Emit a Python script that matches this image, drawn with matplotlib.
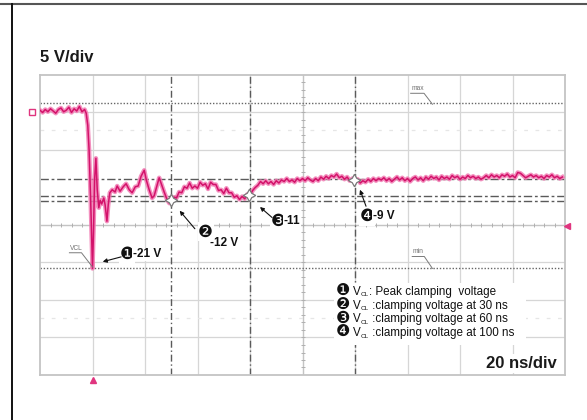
import matplotlib
matplotlib.use("Agg")
import matplotlib.pyplot as plt
from matplotlib.lines import Line2D
from matplotlib.patches import Rectangle

plt.rcParams['font.family'] = ['Liberation Sans', 'DejaVu Sans']

# ---- scope trace (time in ns, 0 = peak; volts) ----
time_ns = [-20, -19, -18, -17, -16, -15, -14, -13, -12, -11, -10, -9, -8, -7, -6, -5, -4, -3, -2.4,
           -1.8, -1.3, -0.7, -0.3, 0.0, 0.4, 0.8, 1.3, 1.8, 2.4, 2.9, 3.5, 4.3, 4.8, 5.5, 6.0, 6.6,
           7.5, 8.6, 9.4, 10.5, 11.7, 12.8, 14.0, 15.1, 16.3, 17.4, 18.5, 19.7, 20.5, 21.6, 22.7,
           23.5, 24.6, 25.4, 26.2, 27.3, 28.5, 29.3,
           30, 31, 32, 33, 34, 35, 36, 37, 38, 39, 40, 41, 42, 43, 44, 45, 46, 47, 48, 49,
           50, 51, 52, 53, 54, 55, 56, 57, 58, 59, 60, 61, 62, 63, 64, 65, 66, 67, 68, 69,
           70, 71, 72, 73, 74, 75, 76, 77, 78, 79, 80, 81, 82, 83, 84, 85, 86, 87, 88, 89,
           90, 91, 92, 93, 94, 95, 96, 97, 98, 99, 100, 101, 102, 103, 104, 105, 106, 107, 108, 109,
           110, 111, 112, 113, 114, 115, 116, 117, 118, 119, 120, 121, 122, 123, 124, 125, 126, 127, 128, 129,
           130, 131, 132, 133, 134, 135, 136, 137, 138, 139, 140, 141, 142, 143, 144, 145, 146, 147, 148, 149,
           150, 151, 152, 153, 154, 155, 156, 157, 158, 159, 160, 161, 162, 163, 164, 165, 166, 167, 168, 169,
           170, 171, 172, 173, 174, 175, 176, 177, 178, 179]
volts = [0.1, -0.2, 0.2, -0.1, 0.3, 0.0, -0.3, 0.2, 0.4, -0.1, 0.1, 0.5, -0.2, 0.3, 0.0, 0.6, -0.1, 0.2, -0.3,
         -1.9, -5.2, -11.9, -17.2, -21.0, -15.9, -9.2, -6.3, -10.5, -12.9, -11.9, -12.4, -11.6, -12.5, -14.7, -12.5, -10.9,
         -10.5, -10.8, -10.0, -10.7, -10.1, -9.7, -10.5, -10.9, -10.1, -10.0, -8.7, -7.9, -9.2, -10.5, -11.6,
         -11.3, -9.9, -8.9, -9.7, -10.8, -11.9, -12.3,
         -12.1, -11.5, -11.6, -10.8, -10.9, -10.1, -10.3, -9.6, -10.3, -10.0, -10.3, -9.5, -9.9, -9.7, -10.4, -9.5, -9.8, -9.8, -10.6, -10.5,
         -11.0, -10.3, -10.9, -10.9, -11.5, -11.3, -11.8, -11.4, -11.7, -11.1, -11.3, -10.6, -10.2, -9.9, -9.4, -9.7, -9.3, -9.7, -9.4, -9.8,
         -9.3, -9.6, -9.2, -9.4, -9.0, -9.4, -9.2, -9.5, -9.0, -9.3, -9.0, -9.3, -8.9, -9.2, -9.4, -9.0, -9.3, -8.8, -9.1, -8.7,
         -9.0, -8.6, -8.8, -8.4, -8.9, -8.7, -9.1, -8.8, -9.3, -9.0, -9.3, -9.1, -9.6, -9.3, -9.5, -9.1, -9.4, -9.0, -9.3, -9.0,
         -9.2, -8.9, -9.3, -9.0, -9.4, -9.1, -8.8, -9.2, -8.9, -9.3, -9.0, -9.4, -9.0, -8.8, -9.2, -8.9, -9.3, -8.8, -9.1, -8.7,
         -9.0, -8.8, -9.2, -8.7, -9.0, -8.8, -9.1, -8.6, -8.9, -8.7, -9.1, -8.8, -9.0, -8.6, -8.9, -8.7, -9.0, -8.8, -9.1, -8.9,
         -8.6, -8.9, -8.5, -8.8, -8.6, -8.9, -8.5, -8.7, -8.4, -8.8, -8.6, -8.9, -8.2, -8.3, -8.6, -8.9, -8.7, -8.5, -8.8, -8.6,
         -8.9, -8.7, -9.0, -8.6, -8.8, -8.5, -8.9, -8.7, -9.0, -8.8]

# cursor settings on the scope
cursor_times = [30, 60, 100]
cursor_levels = [-9.1, -11.4, -12.0]
max_level = 1.0
min_level = -21.0
marker_t = [29.9, 59.7, 99.7]
marker_v = [-11.9, -11.2, -9.2]

# callout numbers and values
circles = ['\u2776', '\u2777', '\u2778', '\u2779']
values = ['-21 V', '-12 V', '-11', '-9 V']
legend_rest = [': Peak clamping  voltage',
               ' :clamping voltage at 30 ns',
               ' :clamping voltage at 60 ns',
               ' :clamping voltage at 100 ns']

x_lim = (-20, 180)
y_lim = (-35.2, 4.8)

fig = plt.figure(figsize=(5.87, 4.2), dpi=100)
ax = fig.add_axes([40 / 587, 45 / 420, 525 / 587, 300 / 420])
ax.set_xlim(*x_lim)
ax.set_ylim(*y_lim)
ax.set_xticks([])
ax.set_yticks([])
for s in ax.spines.values():
    s.set_color('#c4c4c4')
    s.set_linewidth(1.3)

# graticule
grid_c = '#d6d6d6'
for k in range(1, 10):
    ax.axvline(x_lim[0] + 20 * k, color=grid_c, lw=0.9, zorder=1)
for k in [1, 2, 4, 5, 6, 7]:
    ax.axhline(y_lim[1] - 5 * k, color=grid_c, lw=0.9, zorder=1)
ax.axvline(80, color='#c4c4c4', lw=0.9, zorder=1)
ax.axhline(-15.2, color='#c4c4c4', lw=0.9, zorder=1)
ax.plot([x_lim[0] + 4 * k for k in range(1, 50)], [-15.2] * 49, ls='none',
        marker='|', ms=3.5, color='#b0b0b0', mew=0.7, zorder=1)
ax.plot([80] * 39, [y_lim[1] - k for k in range(1, 40)], ls='none',
        marker='_', ms=3.5, color='#b0b0b0', mew=0.7, zorder=1)
for lvl in [-2.5, -27.6]:
    ax.axhline(lvl, color='#e6e6e6', lw=0.9, ls=(0, (3, 6)), zorder=1)

# cursors
for t in cursor_times:
    ax.axvline(t, color='#5a5a5a', lw=1.0, ls=(0, (5, 2, 1, 2)), zorder=2)
for lvl in cursor_levels:
    ax.axhline(lvl, color='#5a5a5a', lw=1.0, ls=(0, (6, 2, 2, 2)), zorder=2)
for lvl in [max_level, min_level]:
    ax.axhline(lvl, color='#666666', lw=1.0, ls=(0, (1, 1.3)), zorder=2)

# trace
ax.plot(time_ns, volts, color='#f27bb3', lw=3.2, alpha=0.85, zorder=3, solid_joinstyle='round')
ax.plot(time_ns, volts, color='#d3126a', lw=1.1, zorder=3)
ax.plot(marker_t, marker_v, ls='none', marker=(4, 1, 0), ms=9, mfc='white',
        mec='#7a7a7a', mew=0.9, zorder=4)

# scope channel / trigger markers
ax.plot([-23], [-0.1], marker='s', ms=4, mfc='white', mec='#e0357f', clip_on=False, zorder=5)
ax.plot([0], [-35.9], marker='^', ms=5, color='#e0357f', clip_on=False, zorder=5)
ax.plot([180.8], [-15.3], marker='<', ms=5, color='#e0357f', clip_on=False, zorder=5)

# small scope labels VCL / max / min
small = dict(fontsize=4.8, color='#707070', zorder=5)
ax.text(-8.6, -18.75, 'VCL', ha='left', va='bottom', **small)
ax.plot([-8.8, -4.2, 0.0], [-18.9, -18.9, -20.8], color='#7a7a7a', lw=0.7, zorder=5)
ax.text(121.4, 2.5, 'max', ha='left', va='bottom', **small)
ax.plot([121.2, 126.3, 129.5], [2.36, 2.36, 0.9], color='#7a7a7a', lw=0.7, zorder=5)
ax.text(121.9, -19.25, 'min', ha='left', va='bottom', **small)
ax.plot([121.8, 126.4, 129.5], [-19.4, -19.4, -21.0], color='#7a7a7a', lw=0.7, zorder=5)

# value callouts: circled number, value text, arrow to the trace
wbox = dict(facecolor='white', edgecolor='none', pad=0.5)
circ = dict(fontsize=12, family='DejaVu Sans', color='#111111', zorder=6,
            ha='center', va='center', bbox=wbox)
bold = dict(fontsize=8.5, fontweight='bold', color='#111111', zorder=6,
            ha='left', va='center', bbox=wbox)
arrow = dict(arrowstyle='-|>', lw=0.8, color='#111111', mutation_scale=6, shrinkA=0, shrinkB=0)

ax.text(13.1, -19.1, circles[0], **circ)
ax.text(15.3, -19.1, values[0], **bold)
ax.annotate('', xy=(3.9, -20.1), xytext=(10.9, -19.45), arrowprops=arrow, zorder=6)

ax.text(43.1, -16.1, circles[1], **circ)
ax.text(44.6, -17.6, values[1], **bold)
ax.annotate('', xy=(33.2, -13.3), xytext=(39.0, -15.7), arrowprops=arrow, zorder=6)

ax.text(70.7, -14.7, circles[2], **circ)
ax.text(72.9, -14.7, values[2], **bold)
ax.annotate('', xy=(63.8, -12.8), xytext=(68.4, -14.2), arrowprops=arrow, zorder=6)

ax.text(104.6, -14.0, circles[3], **circ)
ax.text(106.8, -14.0, values[3], **bold)
ax.annotate('', xy=(101.9, -10.5), xytext=(104.2, -12.7), arrowprops=arrow, zorder=6)

# legend block: circled number, "V", small "CL", rest of the line
ax.add_patch(Rectangle((92.1, -31.2), 73.1, 8.3, facecolor='white', edgecolor='none', zorder=5))
for i, rest in enumerate(legend_rest):
    yv = -23.96 - 1.83 * i
    yb = yv - 0.55
    ax.text(95.6, yv, circles[i], ha='center', va='center', fontsize=11.5,
            family='DejaVu Sans', color='#111111', zorder=6)
    ax.text(99.4, yb, 'V', ha='left', va='baseline', fontsize=8.4,
            color='#111111', zorder=6)
    ax.text(102.3, yb - 0.2, 'CL', ha='left', va='baseline', fontsize=4.6,
            color='#111111', zorder=6)
    ax.text(105.2, yb, rest, ha='left', va='baseline', fontsize=8.4,
            color='#111111', zorder=6)

# scale texts
fig.text(40 / 587, 1 - 62 / 420, '5 V/div', fontsize=12, fontweight='bold',
         ha='left', va='baseline', color='#1a1a1a')
fig.text(557 / 587, 1 - 368 / 420, '20 ns/div', fontsize=12, fontweight='bold',
         ha='right', va='baseline', color='#1a1a1a',
         bbox=dict(facecolor='white', edgecolor='none', pad=1.5))

# page frame lines
fig.add_artist(Line2D([0, 1], [1 - 3.5 / 420] * 2, transform=fig.transFigure, color='#555555', lw=1.5))
fig.add_artist(Line2D([12 / 587] * 2, [0, 1 - 3.5 / 420], transform=fig.transFigure, color='#111111', lw=1.4))

fig.savefig('out.png', dpi=100)
